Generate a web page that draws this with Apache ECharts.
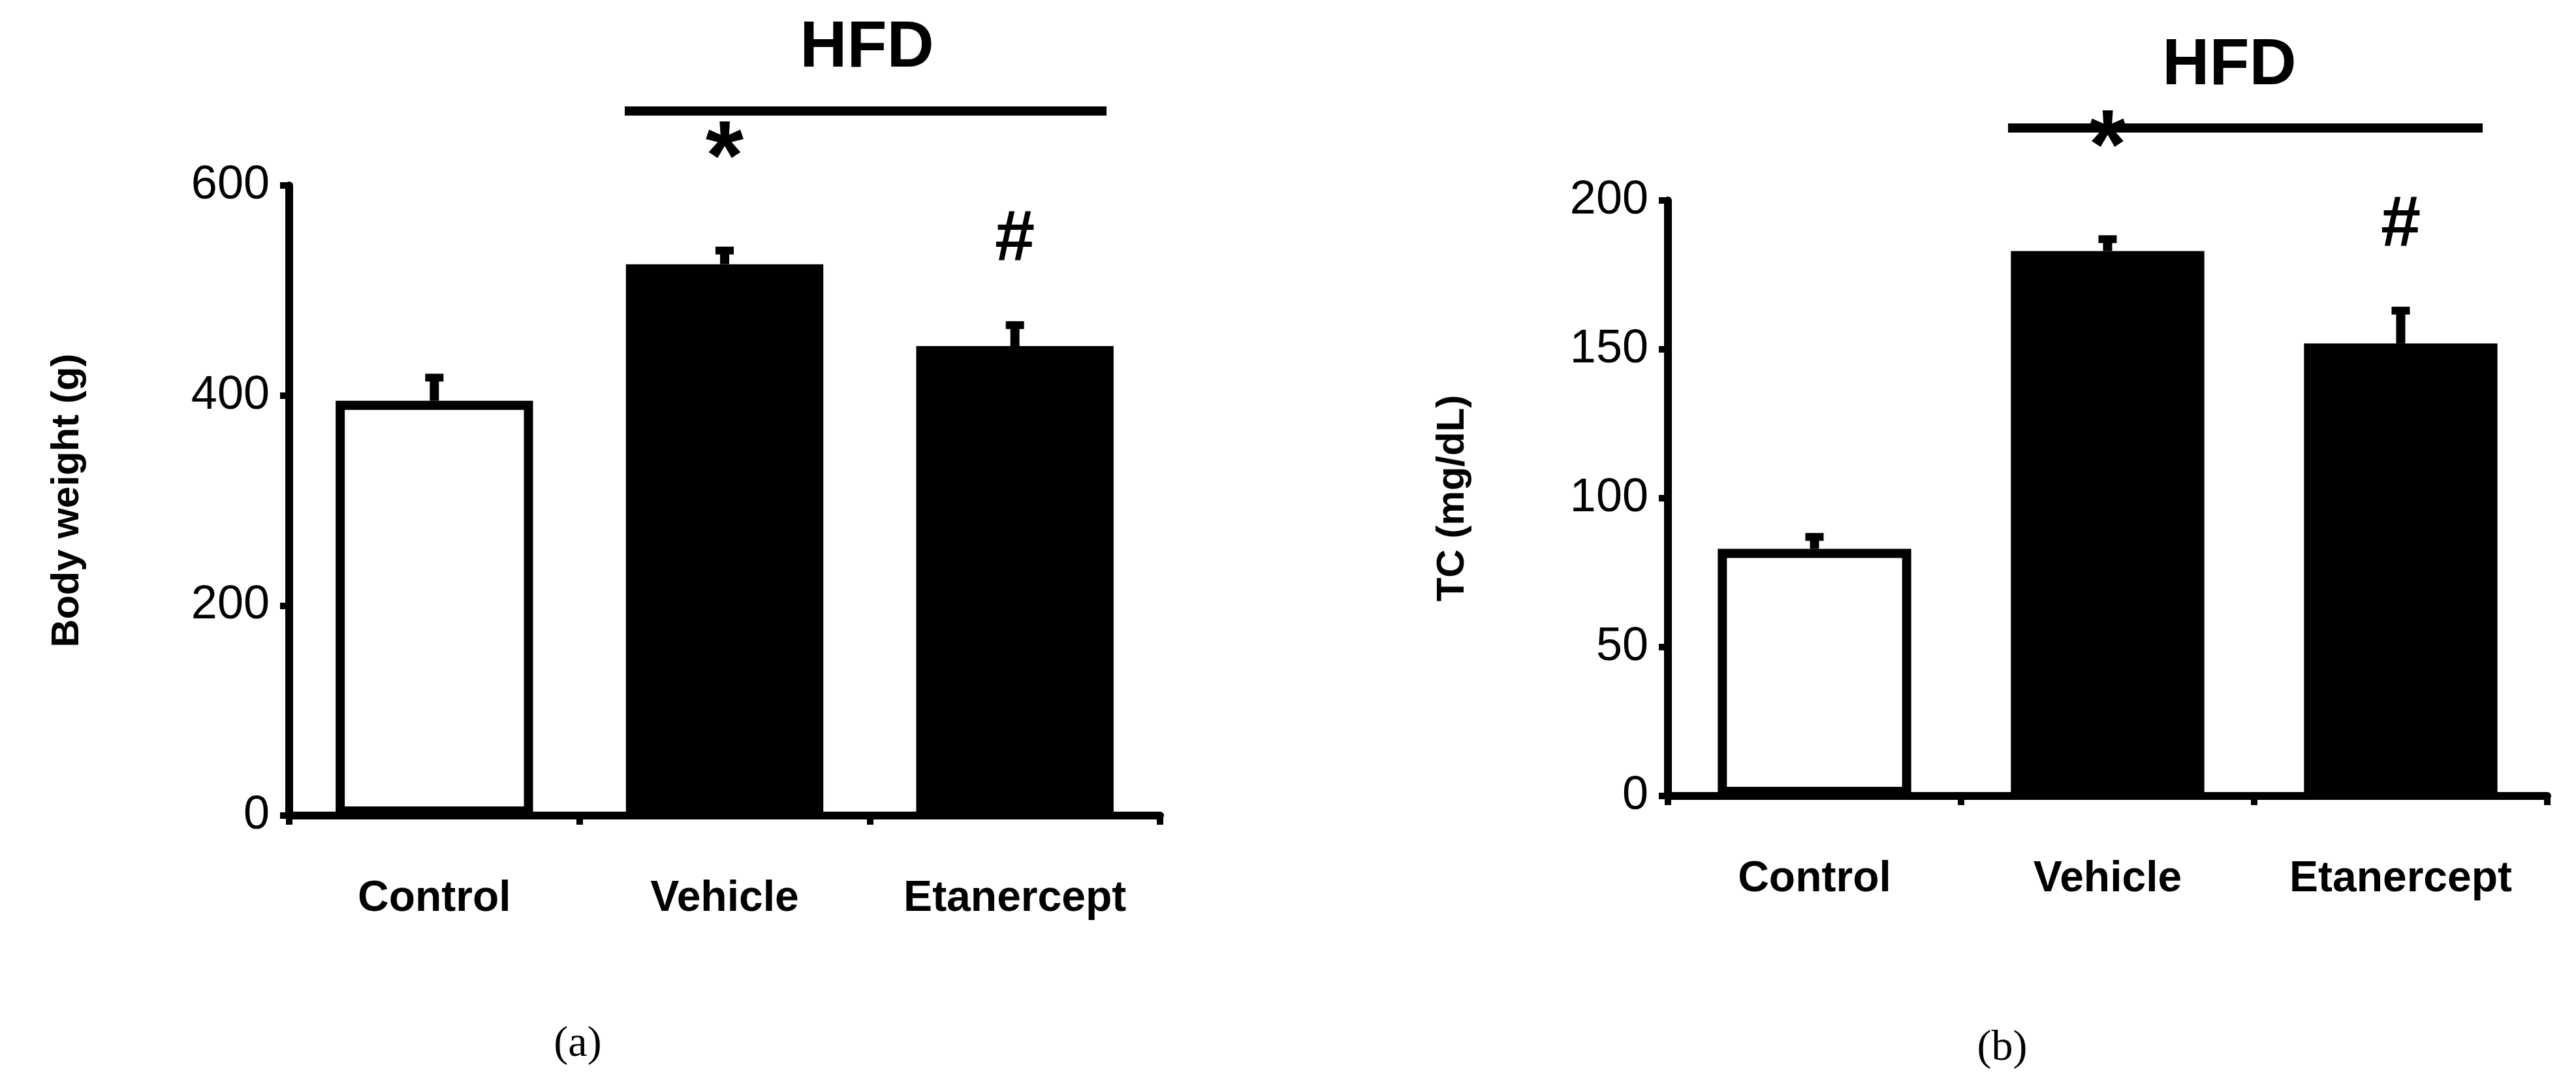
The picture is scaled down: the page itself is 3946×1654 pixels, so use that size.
<!DOCTYPE html>
<html><head><meta charset="utf-8">
<script src="https://cdn.jsdelivr.net/npm/echarts@6/dist/echarts.min.js"></script>
<style>html,body{margin:0;padding:0;background:#fff}#c{width:3946px;height:1654px}</style>
</head><body><div id="c"></div>
<script>
const categories = ['Control', 'Vehicle', 'Etanercept'];
const bwMean = [395, 525, 447];
const bwErr = [417, 538, 467];
const tcMean = [83, 183, 152];
const tcErr = [87, 187, 163];
const marks = ['', '*', '#'];

const chart = echarts.init(document.getElementById('c'));
const F = 'Liberation Sans, Arial, sans-serif';
function xAx(i){return {type:'category',gridIndex:i,data:categories,
  axisLine:{lineStyle:{color:'#000',width:12}},
  axisTick:{show:true,length:14,lineStyle:{width:10,color:'#000'}},
  axisLabel:{color:'#000',fontSize:66,fontWeight:'bold',fontFamily:F,margin:95}};}
function yAx(i,max,interval,name){return {type:'value',gridIndex:i,min:0,max:max,interval:interval,
  name:name,nameLocation:'middle',nameGap:i===0?310:300,
  nameTextStyle:{color:'#000',fontSize:60,fontWeight:'bold',fontFamily:F},
  axisLine:{show:true,lineStyle:{color:'#000',width:12}},
  axisTick:{show:true,length:14,lineStyle:{width:10,color:'#000'}},
  splitLine:{show:false},
  axisLabel:{color:'#000',fontSize:72,fontFamily:F,margin:30}};}
function barData(v){return v.map((x,i)=>({value:x,itemStyle:i===0?{color:'#fff',borderColor:'#000',borderWidth:14}:{color:'#000',borderColor:'#000',borderWidth:4}}));}
function errSeries(i,mean,err){return {type:'custom',xAxisIndex:i,yAxisIndex:i,z:5,
  data:categories.map((c,k)=>[k,mean[k],err[k]]),
  renderItem:function(params,api){
    const a=api.coord([api.value(0),api.value(1)]);
    const b=api.coord([api.value(0),api.value(2)]);
    const m=marks[params.dataIndex];
    const ch=[{type:'line',shape:{x1:a[0],y1:a[1],x2:b[0],y2:b[1]},style:{stroke:'#000',lineWidth:14}},
      {type:'line',shape:{x1:a[0]-14,y1:b[1],x2:a[0]+14,y2:b[1]},style:{stroke:'#000',lineWidth:12}}];
    if(m){ch.push({type:'text',style:{text:m,x:b[0],y:b[1]-(m==='*'?60:130),align:'center',verticalAlign:m==='*'?'bottom':'middle',
      font:(m==='*'?'bold 150px ':'bold 110px ')+F,fill:'#000'}});}
    return {type:'group',children:ch};
  }};}
chart.setOption({
  animation:false,
  grid:[{left:443,right:2169,top:284,bottom:405},{left:2555,right:44,top:307,bottom:435}],
  xAxis:[xAx(0),xAx(1)],
  yAxis:[yAx(0,600,200,'Body weight (g)'),yAx(1,200,50,'TC (mg/dL)')],
  series:[
    {type:'bar',xAxisIndex:0,yAxisIndex:0,barWidth:'68%',data:barData(bwMean)},
    {type:'bar',xAxisIndex:1,yAxisIndex:1,barWidth:'66%',data:barData(tcMean)},
    errSeries(0,bwMean,bwErr),errSeries(1,tcMean,tcErr)
  ],
  graphic:[
    {type:'line',shape:{x1:957,y1:170,x2:1695,y2:170},style:{stroke:'#000',lineWidth:14}},
    {type:'text',x:1328,y:74,style:{text:'HFD',font:'bold 100px '+F,fill:'#000',align:'center',verticalAlign:'middle'}},
    {type:'line',shape:{x1:3076,y1:196,x2:3803,y2:196},style:{stroke:'#000',lineWidth:14}},
    {type:'text',x:3415,y:101,style:{text:'HFD',font:'bold 100px '+F,fill:'#000',align:'center',verticalAlign:'middle'}},
    {type:'text',x:885,y:1600,style:{text:'(a)',font:'66px Liberation Serif, serif',fill:'#000',align:'center',verticalAlign:'middle'}},
    {type:'text',x:3067,y:1606,style:{text:'(b)',font:'66px Liberation Serif, serif',fill:'#000',align:'center',verticalAlign:'middle'}}
  ]
});
</script></body></html>
